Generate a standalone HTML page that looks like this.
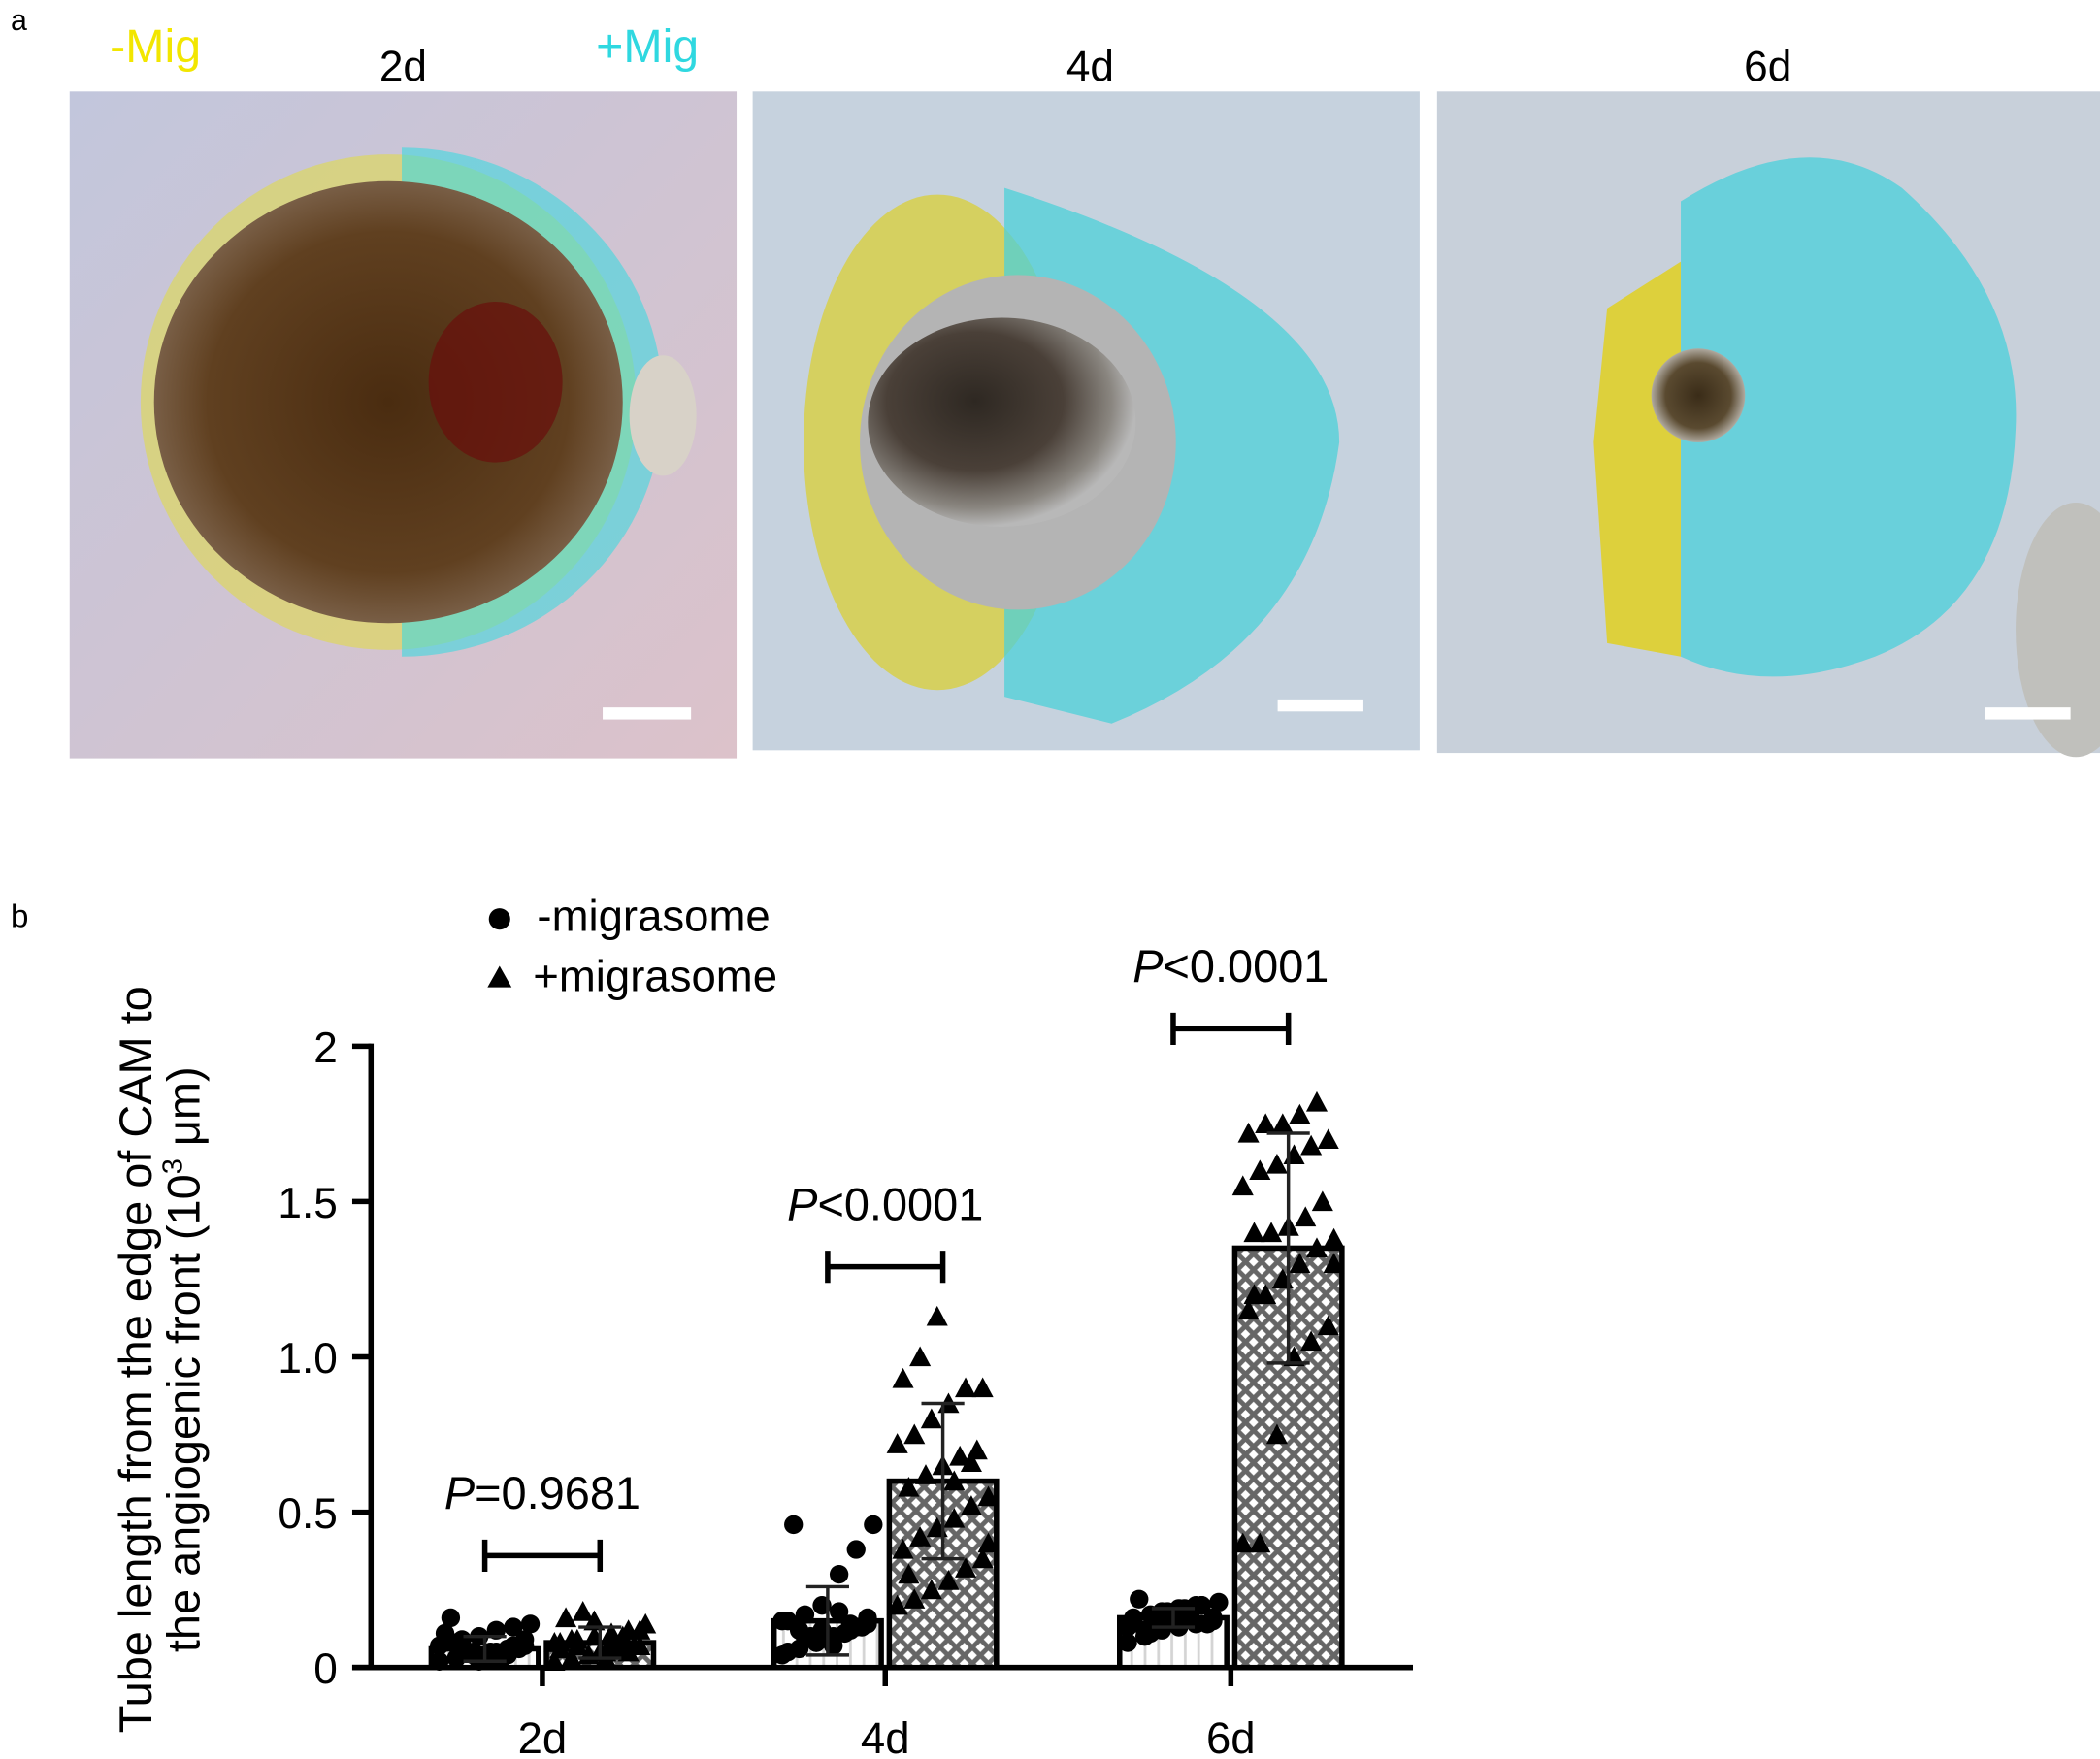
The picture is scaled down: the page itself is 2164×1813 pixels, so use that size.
<!DOCTYPE html>
<html><head><meta charset="utf-8"><style>
html,body{margin:0;padding:0;background:#fff}
svg{display:block}
text{font-family:"Liberation Sans",Arial,sans-serif}
</style></head><body>
<svg id="fig" width="2164" height="1813" viewBox="0 0 1568 1313" xmlns="http://www.w3.org/2000/svg">
<defs>
<radialGradient id="blob1" cx="0.5" cy="0.5" r="0.55"><stop offset="0" stop-color="#4a2c10"/><stop offset="0.7" stop-color="#604020"/><stop offset="0.92" stop-color="#7a6048"/><stop offset="1" stop-color="#9a8a80"/></radialGradient>
<radialGradient id="sph2" cx="0.4" cy="0.4" r="0.6"><stop offset="0" stop-color="#2e2822"/><stop offset="0.55" stop-color="#4a4038"/><stop offset="0.85" stop-color="#8a8680"/><stop offset="1" stop-color="#b8b8b8"/></radialGradient>
<radialGradient id="sph3" cx="0.5" cy="0.5" r="0.5"><stop offset="0" stop-color="#3a2c18"/><stop offset="0.7" stop-color="#5a4a30"/><stop offset="1" stop-color="#b0aaa0"/></radialGradient>
<linearGradient id="bg1" x1="0" y1="0" x2="1" y2="1"><stop offset="0" stop-color="#c2c6dc"/><stop offset="1" stop-color="#dcc2ca"/></linearGradient>
<pattern id="hatch" width="12" height="12" patternUnits="userSpaceOnUse"><rect width="12" height="12" fill="#fff"/><path d="M0 0L12 12M12 0L0 12" stroke="#666" stroke-width="3.5"/></pattern>
<pattern id="vlines" width="10" height="10" patternUnits="userSpaceOnUse"><rect width="10" height="10" fill="#fff"/><path d="M5 0V10" stroke="#d4d4d4" stroke-width="2"/></pattern>
</defs>

<!-- Panel a -->
<text x="8" y="22" font-size="22">a</text>
<text x="82" y="46" font-size="35" fill="#f2e600">-Mig</text>
<text x="445" y="46" font-size="35" fill="#2fd8e0">+Mig</text>
<text x="301" y="60" font-size="32" text-anchor="middle">2d</text>
<text x="814" y="60" font-size="32" text-anchor="middle">4d</text>
<text x="1320" y="60" font-size="32" text-anchor="middle">6d</text>

<g>
<rect x="52" y="68" width="498" height="498" fill="url(#bg1)"/>
<ellipse cx="290" cy="300" rx="185" ry="185" fill="#e2dc40" opacity="0.55"/>
<path d="M300 110 A195 190 0 0 1 300 490 Z" fill="#40d8e0" opacity="0.6"/>
<ellipse cx="290" cy="300" rx="175" ry="165" fill="url(#blob1)"/>
<ellipse cx="370" cy="285" rx="50" ry="60" fill="#6a0e0c" opacity="0.7"/>
<ellipse cx="495" cy="310" rx="25" ry="45" fill="#d8d2c8"/>
<rect x="450" y="528" width="66" height="9" fill="#fff"/>
</g>
<g>
<rect x="562" y="68" width="498" height="492" fill="#c6d2de"/>
<ellipse cx="700" cy="330" rx="100" ry="185" fill="#d8d040" opacity="0.8"/>
<path d="M750 140 Q1000 220 1000 330 Q980 480 830 540 L750 520 Z" fill="#4cd0d8" opacity="0.75"/>
<ellipse cx="760" cy="330" rx="118" ry="125" fill="#b4b4b4"/>
<ellipse cx="748" cy="315" rx="100" ry="78" fill="url(#sph2)"/>
<rect x="954" y="522" width="64" height="9" fill="#fff"/>
</g>
<g>
<rect x="1073" y="68" width="495" height="494" fill="#c8d0da"/>
<path d="M1255 195 L1200 230 L1190 330 L1200 480 L1255 490 Z" fill="#e0d020" opacity="0.85"/>
<path d="M1255 150 Q1350 90 1420 140 Q1510 220 1505 320 Q1500 450 1400 490 Q1320 520 1255 490 Z" fill="#40d0dc" opacity="0.7"/>
<circle cx="1268" cy="295" r="35" fill="url(#sph3)"/>
<ellipse cx="1550" cy="470" rx="45" ry="95" fill="#c0c0bc"/>
<rect x="1482" y="528" width="64" height="9" fill="#fff"/>
</g>

<!-- Panel b -->
<text x="8" y="692" font-size="24">b</text>
<g id="legend">
<circle cx="373" cy="686" r="8" fill="#000"/>
<text x="401" y="695" font-size="33">-migrasome</text>
<path d="M364 737 L373 721 L382 737 Z" fill="#000"/>
<text x="398" y="740" font-size="33">+migrasome</text>
</g>
<text transform="translate(113,1015) rotate(-90)" font-size="34" text-anchor="middle"><tspan x="0" dy="0">Tube length from the edge of CAM to</tspan><tspan x="0" dy="36">the angiogenic front (10<tspan font-size="21" dy="-13">3</tspan><tspan dy="13"> μm)</tspan></tspan></text>
<g id="chart"></g>
</svg>
<script>
const categories = ["2d","4d","6d"];
const yTicks = [0,0.5,1.0,1.5,2];
const yTickLabels = ["0","0.5","1.0","1.5","2"];
const meanMinus = [0.06,0.15,0.16];
const meanPlus = [0.08,0.60,1.35];
const sdMinus = [0.04,0.11,0.03];
const sdPlus = [0.05,0.25,0.37];
const pLabels = ["=0.9681","<0.0001","<0.0001"];
const pBarValue = [0.36,1.29,2.056];
const ptsMinus = [
 [0.02,0.03,0.04,0.05,0.06,0.07,0.08,0.09,0.1,0.12,0.13,0.14,0.16,0.05,0.04,0.03,0.06,0.07,0.08,0.05,0.03,0.04,0.09,0.11,0.06,0.02,0.05,0.07],
 [0.04,0.06,0.08,0.1,0.12,0.14,0.15,0.17,0.2,0.3,0.38,0.46,0.46,0.1,0.09,0.11,0.13,0.15,0.12,0.08,0.07,0.14,0.16,0.05,0.1,0.12,0.18,0.13],
 [0.08,0.1,0.12,0.13,0.14,0.15,0.16,0.17,0.18,0.19,0.2,0.21,0.22,0.15,0.16,0.17,0.14,0.13,0.12,0.18,0.19,0.2,0.16,0.15,0.11,0.17,0.18,0.2]
];
const ptsPlus = [
 [0.02,0.03,0.04,0.05,0.06,0.07,0.08,0.09,0.1,0.11,0.12,0.14,0.16,0.18,0.05,0.06,0.07,0.08,0.09,0.04,0.03,0.1,0.12,0.06,0.07,0.15,0.08,0.05],
 [0.2,0.22,0.25,0.28,0.32,0.35,0.38,0.42,0.45,0.48,0.52,0.55,0.58,0.62,0.65,0.68,0.7,0.72,0.75,0.8,0.85,0.9,0.9,0.93,1.0,1.13,0.6,0.66,0.4,0.3],
 [0.4,0.4,0.75,1.0,1.05,1.1,1.15,1.2,1.25,1.3,1.35,1.38,1.4,1.4,1.42,1.45,1.5,1.55,1.6,1.62,1.65,1.68,1.7,1.72,1.75,1.75,1.78,1.82,1.3,1.2]
];
const svg = document.getElementById('chart');
const NS = "http://www.w3.org/2000/svg";
const x0 = 277, xStart = 263, xEnd = 1055, yBase = 1245, yTop = 781, yMax = 2;
const yScale = v => yBase - (v / yMax) * (yBase - yTop);
const catCenters = [405, 661, 919];
const xScale = i => catCenters[i];
const barW = 80, gap = 6;
function mk(tag, attrs, parent) { const e = document.createElementNS(NS, tag); for (const k in attrs) e.setAttribute(k, attrs[k]); (parent || svg).appendChild(e); return e; }

const yAxis = mk('line', {x1:x0, y1:yTop-2, x2:x0, y2:yBase, stroke:'#000', 'stroke-width':4});


const xAxis = mk('line', {x1:xStart, y1:yBase, x2:xEnd, y2:yBase, stroke:'#000', 'stroke-width':4});


yTicks.forEach((t, i) => {
  const tk = mk('line', {x1:x0-14, y1:yScale(t), x2:x0, y2:yScale(t), stroke:'#000', 'stroke-width':4});
  
  
  const lb = mk('text', {x:x0-25, y:yScale(t)+12, 'font-size':32, 'text-anchor':'end'});
  lb.textContent = yTickLabels[i];
  
  
});
categories.forEach((c, i) => {
  const cx = xScale(i);
  const tk = mk('line', {x1:cx, y1:yBase, x2:cx, y2:yBase+14, stroke:'#000', 'stroke-width':4});
  
  
  const lb = mk('text', {x:cx, y:1309, 'font-size':33, 'text-anchor':'middle'});
  lb.textContent = c;
  
  
  const groups = [[meanMinus, sdMinus, ptsMinus, 'url(#vlines)', cx - gap/2 - barW, 'minus'], [meanPlus, sdPlus, ptsPlus, 'url(#hatch)', cx + gap/2, 'plus']];
  groups.forEach(([mean, sd, pts, fill, bx, tag]) => {
    const w = barW;
    const bar = mk('rect', {x:bx, y:yScale(mean[i]), width:w, height:yBase - yScale(mean[i]), fill:fill, stroke:'#000', 'stroke-width':4});
    
    
    const mx = bx + w/2;
    pts[i].forEach((v, j) => {
      const off = ((j * 37) % 17 - 8) / 8 * (w/2 - 6);
      const px = mx + off, py = yScale(v);
      let m;
      if (tag === 'minus') m = mk('circle', {cx:px, cy:py, r:7, fill:'#000'});
      else m = mk('path', {d:`M${px-8} ${py+7} L${px} ${py-8} L${px+8} ${py+7} Z`, fill:'#000'});
      
      
    });
    const eb = mk('path', {d:`M${mx} ${yScale(mean[i]-sd[i])}V${yScale(mean[i]+sd[i])}M${mx-16} ${yScale(mean[i]+sd[i])}H${mx+16}M${mx-16} ${yScale(mean[i]-sd[i])}H${mx+16}`, stroke:'#222', 'stroke-width':2.5, fill:'none'});
    
    
  });
  const by = yScale(pBarValue[i]);
  const x1 = cx - gap/2 - barW/2, x2 = cx + gap/2 + barW/2;
  const sig = mk('path', {d:`M${x1} ${by-12}V${by+12}M${x2} ${by-12}V${by+12}M${x1} ${by}H${x2}`, stroke:'#000', 'stroke-width':4, fill:'none'});
  
  
  const pt = mk('text', {x:cx, y:by-35, 'font-size':34, 'text-anchor':'middle'});
  pt.innerHTML = '<tspan font-style="italic">P</tspan>' + pLabels[i].replace('<','&lt;');
  
  
});
</script>
</body></html>
